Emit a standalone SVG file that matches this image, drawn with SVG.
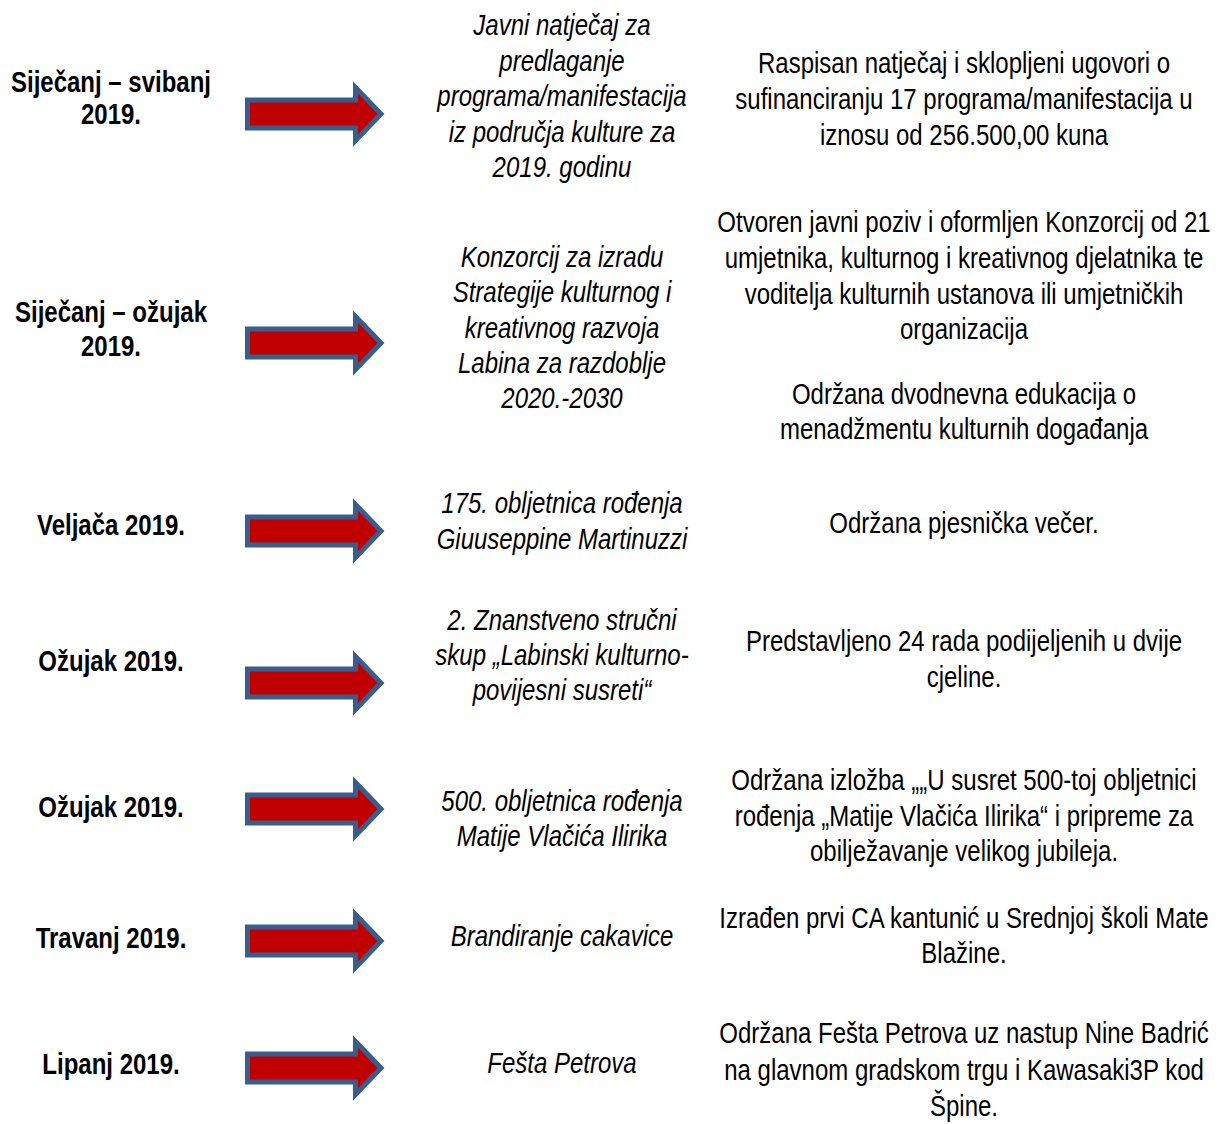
<svg xmlns="http://www.w3.org/2000/svg" xmlns:xlink="http://www.w3.org/1999/xlink" width="1224" height="1124" viewBox="0 0 1224 1124">
<style>
text{font-family:"Liberation Sans",Arial,sans-serif;font-size:30px;fill:#000;text-anchor:middle}
.d{font-weight:bold}
.m{font-style:italic}
.arrow{fill:#C00000;stroke:#3A5E8C;stroke-width:5;stroke-linejoin:miter}
</style>
<defs>
<path id="arr" class="arrow" d="M247.5,-14 H355.5 V-26.5 L381,0 L355.5,26.5 V14 H247.5 Z"/>
</defs>
<rect width="1224" height="1124" fill="#fff"/>
<g id="connectors">
<use xlink:href="#arr" href="#arr" transform="translate(0,114)"/>
<use xlink:href="#arr" href="#arr" transform="translate(0,343)"/>
<use xlink:href="#arr" href="#arr" transform="translate(0,531)"/>
<use xlink:href="#arr" href="#arr" transform="translate(0,683)"/>
<use xlink:href="#arr" href="#arr" transform="translate(0,809)"/>
<use xlink:href="#arr" href="#arr" transform="translate(0,941)"/>
<use xlink:href="#arr" href="#arr" transform="translate(0,1068)"/>
</g>
<g id="dates" transform="translate(111,0) scale(0.8,1)">
<g id="date1"><text class="d" y="92">Siječanj – svibanj</text><text class="d" y="124">2019.</text></g>
<g id="date2"><text class="d" y="322">Siječanj – ožujak</text><text class="d" y="356">2019.</text></g>
<g id="date3"><text class="d" y="535">Veljača 2019.</text></g>
<g id="date4"><text class="d" y="671">Ožujak 2019.</text></g>
<g id="date5"><text class="d" y="817">Ožujak 2019.</text></g>
<g id="date6"><text class="d" y="948">Travanj 2019.</text></g>
<g id="date7"><text class="d" y="1074">Lipanj 2019.</text></g>
</g>
<g id="activities" transform="translate(562,0) scale(0.8,1)">
<g id="act1"><text class="m" y="35">Javni natječaj za</text><text class="m" y="71">predlaganje</text><text class="m" y="106">programa/manifestacija</text><text class="m" y="142">iz područja kulture za</text><text class="m" y="177">2019. godinu</text></g>
<g id="act2"><text class="m" y="267">Konzorcij za izradu</text><text class="m" y="302">Strategije kulturnog i</text><text class="m" y="338">kreativnog razvoja</text><text class="m" y="373">Labina za razdoblje</text><text class="m" y="408">2020.-2030</text></g>
<g id="act3"><text class="m" y="513">175. obljetnica rođenja</text><text class="m" y="549">Giuuseppine Martinuzzi</text></g>
<g id="act4"><text class="m" y="630">2. Znanstveno stručni</text><text class="m" y="665">skup „Labinski kulturno-</text><text class="m" y="700">povijesni susreti“</text></g>
<g id="act5"><text class="m" y="811">500. obljetnica rođenja</text><text class="m" y="846">Matije Vlačića Ilirika</text></g>
<g id="act6"><text class="m" y="946">Brandiranje cakavice</text></g>
<g id="act7"><text class="m" y="1073">Fešta Petrova</text></g>
</g>
<g id="results" transform="translate(964,0) scale(0.8,1)">
<g id="res1"><text y="73">Raspisan natječaj i sklopljeni ugovori o</text><text y="109">sufinanciranju 17 programa/manifestacija u</text><text y="145">iznosu od 256.500,00 kuna</text></g>
<g id="res2"><text y="232">Otvoren javni poziv i oformljen Konzorcij od 21</text><text y="268">umjetnika, kulturnog i kreativnog djelatnika te</text><text y="304">voditelja kulturnih ustanova ili umjetničkih</text><text y="339">organizacija</text><text y="404">Održana dvodnevna edukacija o</text><text y="439">menadžmentu kulturnih događanja</text></g>
<g id="res3"><text y="533">Održana pjesnička večer.</text></g>
<g id="res4"><text y="651">Predstavljeno 24 rada podijeljenih u dvije</text><text y="687">cjeline.</text></g>
<g id="res5"><text y="790">Održana izložba „„U susret 500-toj obljetnici</text><text y="826">rođenja „Matije Vlačića Ilirika“ i pripreme za</text><text y="861">obilježavanje velikog jubileja.</text></g>
<g id="res6"><text y="928">Izrađen prvi CA kantunić u Srednjoj školi Mate</text><text y="963">Blažine.</text></g>
<g id="res7"><text y="1043">Održana Fešta Petrova uz nastup Nine Badrić</text><text y="1080">na glavnom gradskom trgu i Kawasaki3P kod</text><text y="1116">Špine.</text></g>
</g>
</svg>
